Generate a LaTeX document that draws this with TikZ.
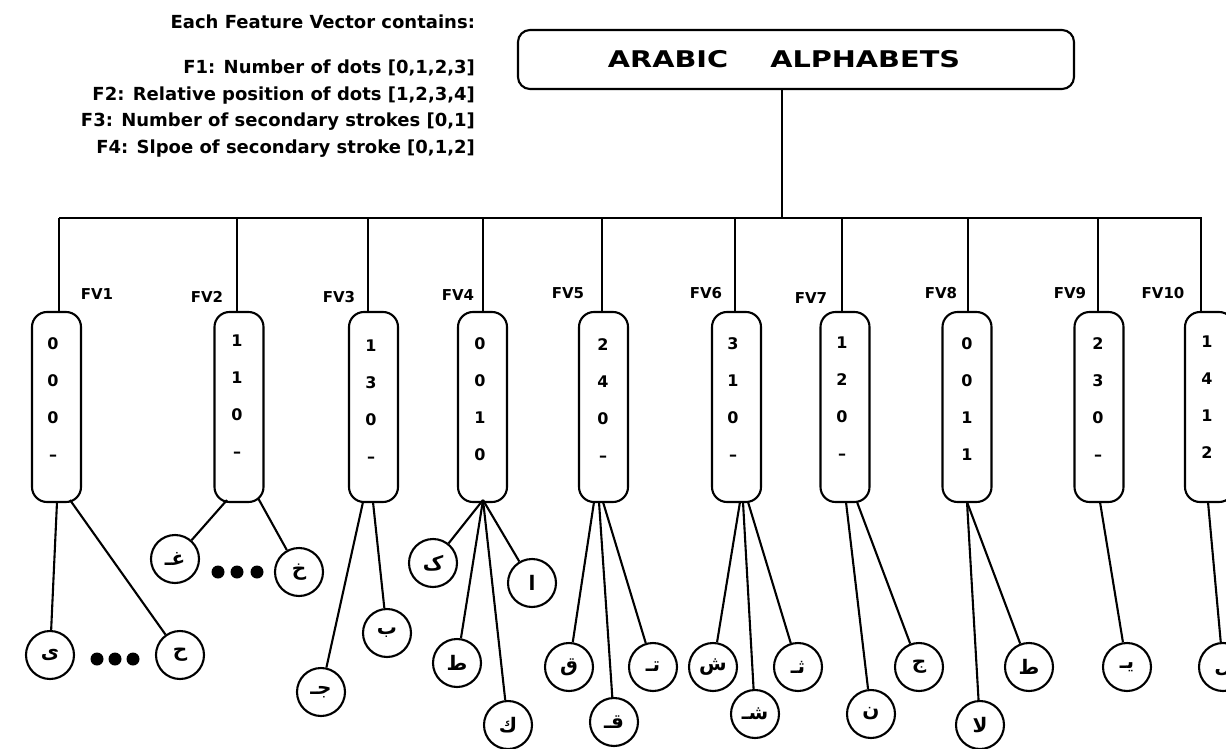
\documentclass[tikz,border=0pt]{standalone}
\usepackage{fontspec}
\usepackage{graphicx}
\setmainfont{DejaVu Sans}
\newfontfamily\arabicfont[Script=Arabic]{DejaVu Sans}
\TeXXeTstate=1
\begin{document}
\begin{tikzpicture}[x=1pt,y=-1pt, line width=2.1pt,
  fvbox/.style={draw, rounded corners=15pt, minimum width=49pt, minimum height=190pt, inner sep=0pt},
  lett/.style={draw, circle, minimum size=48pt, inner sep=0pt, font=\arabicfont\bfseries\fontsize{20}{24}\selectfont},
  num/.style={align=center, font=\bfseries\fontsize{16}{37}\selectfont, inner sep=0pt},
  fvlabel/.style={font=\bfseries\fontsize{15}{18}\selectfont, inner sep=0pt},
  bigdot/.style={circle, fill, minimum size=13pt, inner sep=0pt},
  infotext/.style={font=\bfseries\fontsize{18}{26.5}\selectfont, inner sep=0pt, align=right}
]
\fill[white] (0,0) rectangle (1226,749);
\useasboundingbox (0,0) rectangle (1226,749);
\clip (0,0) rectangle (1226,749);

% info text
\node[infotext, anchor=east] (head) at (476,22) {Each Feature Vector contains:};
\node[infotext, anchor=east] (flist) at (476,108.5) {F1: Number of dots [0,1,2,3]\\F2: Relative position of dots [1,2,3,4]\\F3: Number of secondary strokes [0,1]\\F4: Slpoe of secondary stroke [0,1,2]};

% title
\node[draw, rounded corners=12pt, minimum width=556pt, minimum height=59pt, inner sep=0pt] (title) at (796,59.5) {};
\node[font=\bfseries\fontsize{23}{28}\selectfont, inner sep=0pt] (titletext) at (784,59) {\scalebox{1.25}[1]{ARABIC}\hspace{42pt}\scalebox{1.25}[1]{ALPHABETS}};

% bus
\coordinate (root) at (782,218);
\coordinate (busL) at (59,218);
\coordinate (busR) at (1202,218);
\draw (title.south -| root) -- (root);
\draw (busL) -- (busR);

% feature vector boxes
\node[fvbox] (fv1) at (56.5,407) {};
\node[fvbox] (fv2) at (239,407) {};
\node[fvbox] (fv3) at (373.5,407) {};
\node[fvbox] (fv4) at (482.5,407) {};
\node[fvbox] (fv5) at (603.5,407) {};
\node[fvbox] (fv6) at (736.5,407) {};
\node[fvbox] (fv7) at (845,407) {};
\node[fvbox] (fv8) at (967,407) {};
\node[fvbox] (fv9) at (1099,407) {};
\node[fvbox] (fv10) at (1209.5,407) {};

% drop lines
\coordinate (d1) at (59,218);
\coordinate (d2) at (237,218);
\coordinate (d3) at (368,218);
\coordinate (d4) at (483,218);
\coordinate (d5) at (602,218);
\coordinate (d6) at (735,218);
\coordinate (d7) at (842,218);
\coordinate (d8) at (968,218);
\coordinate (d9) at (1098,218);
\coordinate (d10) at (1201,218);
\foreach \i in {1,...,10} { \draw (d\i) -- (d\i |- fv\i.north); }

% labels
\node[fvlabel] (l1) at (97,294) {FV1};
\node[fvlabel] (l2) at (207,297) {FV2};
\node[fvlabel] (l3) at (339,297) {FV3};
\node[fvlabel] (l4) at (458,295) {FV4};
\node[fvlabel] (l5) at (568,293) {FV5};
\node[fvlabel] (l6) at (706,293) {FV6};
\node[fvlabel] (l7) at (811,298) {FV7};
\node[fvlabel] (l8) at (941,293) {FV8};
\node[fvlabel] (l9) at (1070,293) {FV9};
\node[fvlabel] (l10) at (1163,293) {FV10};

% vector values
\node[num] (v1) at (53,399.5) {0\\0\\0\\--};
\node[num] (v2) at (237,396) {1\\1\\0\\--};
\node[num] (v3) at (371,401) {1\\3\\0\\--};
\node[num] (v4) at (480,399) {0\\0\\1\\0};
\node[num] (v5) at (603,400) {2\\4\\0\\--};
\node[num] (v6) at (733,399.5) {3\\1\\0\\--};
\node[num] (v7) at (842,398.5) {1\\2\\0\\--};
\node[num] (v8) at (967,399) {0\\0\\1\\1};
\node[num] (v9) at (1098,399.5) {2\\3\\0\\--};
\node[num] (v10) at (1207,397) {1\\4\\1\\2};

% letter circles
\node[lett] (c1a) at (50,655) {\beginR ى\endR};
\node[lett] (c1b) at (180,655) {\beginR ح\endR};
\node[bigdot] (p1a) at (97,659) {};
\node[bigdot] (p1b) at (115,659) {};
\node[bigdot] (p1c) at (133,659) {};

\node[lett] (c2a) at (175,559) {\beginR غـ\endR};
\node[lett] (c2b) at (299,572) {\beginR خ\endR};
\node[bigdot] (p2a) at (218,572) {};
\node[bigdot] (p2b) at (237,572) {};
\node[bigdot] (p2c) at (257,572) {};

\node[lett] (c3a) at (321,692) {\beginR جـ\endR};
\node[lett] (c3b) at (387,633) {\beginR ب\endR};

\node[lett] (c4a) at (433,563) {\beginR ک\endR};
\node[lett] (c4b) at (532,583) {\beginR ا\endR};
\node[lett] (c4c) at (457,663) {\beginR ط\endR};
\node[lett] (c4d) at (508,725) {\beginR ك\endR};

\node[lett] (c5a) at (569,667) {\beginR ق\endR};
\node[lett] (c5b) at (614,722) {\beginR قـ\endR};
\node[lett] (c5c) at (653,667) {\beginR تـ\endR};

\node[lett] (c6a) at (713,667) {\beginR ش\endR};
\node[lett] (c6b) at (755,714) {\beginR شـ\endR};
\node[lett] (c6c) at (798,667) {\beginR ثـ\endR};

\node[lett] (c7a) at (871,714) {\beginR ن\endR};
\node[lett] (c7b) at (919,667) {\beginR ج\endR};

\node[lett] (c8a) at (980,725) {\beginR لا\endR};
\node[lett] (c8b) at (1029,667) {\beginR ط\endR};

\node[lett] (c9a) at (1127,667) {\beginR يـ\endR};

\node[lett] (c10a) at (1223,667) {\beginR ل\endR};

% branch origins on box bottoms
\coordinate (o1a) at (57,502);
\coordinate (o1b) at (70,500);
\coordinate (o2a) at (227,500);
\coordinate (o2b) at (258,498);
\coordinate (o3a) at (363,502);
\coordinate (o3b) at (373,502);
\coordinate (o4) at (483,500);
\coordinate (o5a) at (594,502);
\coordinate (o5b) at (599,502);
\coordinate (o5c) at (603,502);
\coordinate (o6a) at (740,502);
\coordinate (o6b) at (743,502);
\coordinate (o6c) at (748,502);
\coordinate (o7a) at (846,502);
\coordinate (o7b) at (857,502);
\coordinate (o8) at (967,502);
\coordinate (o9) at (1100,502);
\coordinate (o10) at (1208,502);

\draw (o1a) -- (c1a);
\draw (o1b) -- (c1b);
\draw (o2a) -- (c2a);
\draw (o2b) -- (c2b);
\draw (o3a) -- (c3a);
\draw (o3b) -- (c3b);
\draw (o4) -- (c4a);
\draw (o4) -- (c4b);
\draw (o4) -- (c4c);
\draw (o4) -- (c4d);
\draw (o5a) -- (c5a);
\draw (o5b) -- (c5b);
\draw (o5c) -- (c5c);
\draw (o6a) -- (c6a);
\draw (o6b) -- (c6b);
\draw (o6c) -- (c6c);
\draw (o7a) -- (c7a);
\draw (o7b) -- (c7b);
\draw (o8) -- (c8a);
\draw (o8) -- (c8b);
\draw (o9) -- (c9a);
\draw (o10) -- (c10a);
\end{tikzpicture}
\end{document}
